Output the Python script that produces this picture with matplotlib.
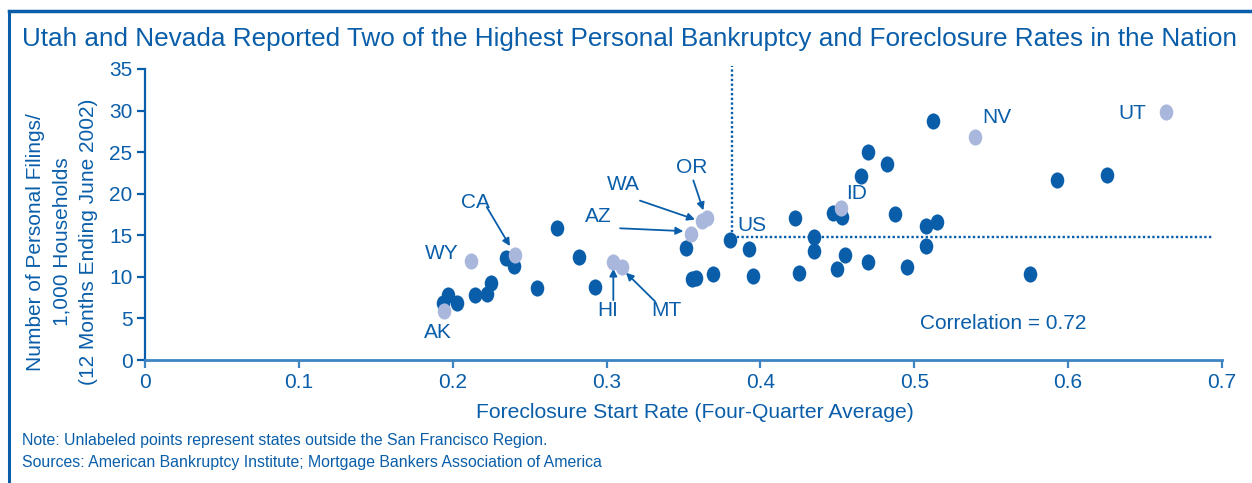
import numpy as np
import matplotlib.pyplot as plt
from matplotlib.path import Path
from matplotlib.lines import Line2D

plt.rcParams['font.family'] = ['Liberation Sans', 'DejaVu Sans']

BLUE = '#0a5ea9'
LIGHT = '#a9b7dc'
AXCOL = '#3d84c3'

# states outside the region (unlabeled)
other_x = [0.194, 0.197, 0.2026, 0.2145, 0.222, 0.2247, 0.2346, 0.240, 0.2546, 0.2676,
           0.282, 0.2925, 0.3516, 0.3553, 0.358, 0.3694, 0.380, 0.3926, 0.395, 0.4225,
           0.4251, 0.4348, 0.435, 0.4474, 0.4528, 0.450, 0.455, 0.4651, 0.4701, 0.4825,
           0.4701, 0.4875, 0.495, 0.5076, 0.515, 0.5076, 0.5124, 0.5752, 0.593, 0.625]
other_y = [6.9, 7.8, 6.9, 7.82, 7.9, 9.3, 12.23, 11.3, 8.62, 15.84,
           12.35, 8.82, 13.43, 9.7, 9.82, 10.3, 14.43, 13.31, 10.1, 17.04,
           10.5, 14.83, 13.1, 17.64, 17.16, 10.9, 12.63, 22.13, 25.05, 23.53,
           11.83, 17.52, 11.23, 16.12, 16.64, 13.75, 28.79, 10.3, 21.65, 22.21]

# San Francisco district states
sf_states = ['WY', 'CA', 'AK', 'HI', 'MT', 'AZ', 'WA', 'OR', 'ID', 'NV', 'UT']
sf_x = [0.2119, 0.2405, 0.1945, 0.3044, 0.3098, 0.3549, 0.3618, 0.3651, 0.4524, 0.5395, 0.6636]
sf_y = [11.94, 12.63, 5.93, 11.82, 11.14, 15.16, 16.75, 17.04, 18.24, 26.86, 29.79]

us_x = 0.3817
us_y = 14.83

# label text positions, and arrow tail/head where an arrow is drawn
label_pos = {
    'WY': (0.193, 12.8), 'CA': (0.2145, 19.0), 'AK': (0.1906, 3.25),
    'HI': (0.301, 6.0), 'MT': (0.339, 6.0), 'AZ': (0.2944, 17.3),
    'WA': (0.3109, 21.1), 'OR': (0.3553, 23.16), 'ID': (0.4628, 19.97),
    'NV': (0.5537, 29.2), 'UT': (0.6415, 29.6),
}
arrows = {
    'CA': ((0.2221, 18.4), (0.2372, 13.7)),
    'HI': ((0.3044, 7.2), (0.3044, 11.0)),
    'MT': ((0.3315, 7.05), (0.3126, 10.5)),
    'AZ': ((0.3088, 15.84), (0.3499, 15.5)),
    'WA': ((0.3217, 19.17), (0.3575, 16.9)),
    'OR': ((0.3564, 21.6), (0.3629, 18.0)),
}

# slightly tall oval dots
circ = Path.unit_circle()
oval = Path(circ.vertices * [0.84, 1.0], circ.codes)

W, H = 1252, 483
fig = plt.figure(figsize=(W / 100, H / 100), dpi=100)
ax = fig.add_axes([145 / W, 1 - 360 / H, (1222 - 145) / W, (360 - 69) / H])

ax.scatter(other_x, other_y, s=135, marker=oval, color=BLUE, linewidths=0, zorder=3)
ax.scatter(sf_x, sf_y, s=135, marker=oval, color=LIGHT, linewidths=0, zorder=4)

# U.S. average crosshair
ax.plot([us_x, us_x], [us_y, 35.4], ls=(0, (1, 1)), lw=1.7, color=BLUE, clip_on=False, zorder=2)
ax.plot([us_x, 0.694], [us_y, us_y], ls=(0, (1, 1)), lw=1.7, color=BLUE, zorder=2)
ax.text(0.3945, 16.2, 'US', color=BLUE, fontsize=15, ha='center', va='center')

for st in sf_states:
    tx, ty = label_pos[st]
    ax.text(tx, ty, st, color=BLUE, fontsize=15, ha='center', va='center', zorder=5)
    if st in arrows:
        tail, head = arrows[st]
        ax.annotate('', xy=head, xytext=tail,
                    arrowprops=dict(arrowstyle='-|>', color=BLUE, lw=1.3,
                                    mutation_scale=11, shrinkA=0, shrinkB=0))

ax.text(0.5576, 4.33, 'Correlation = 0.72', color=BLUE, fontsize=15, ha='center', va='center')

ax.set_xlim(0, 0.7)
ax.set_ylim(0, 35)
ax.set_xticks(np.arange(0, 0.71, 0.1))
ax.set_xticklabels(['0', '0.1', '0.2', '0.3', '0.4', '0.5', '0.6', '0.7'])
ax.set_yticks(range(0, 36, 5))
for side in ['top', 'right']:
    ax.spines[side].set_visible(False)
ax.spines['bottom'].set_color(AXCOL)
ax.spines['bottom'].set_linewidth(2)
ax.spines['left'].set_color(BLUE)
ax.spines['left'].set_linewidth(1.6)
ax.tick_params(axis='x', colors=AXCOL, labelcolor=BLUE, length=6, width=1.6,
               labelsize=15, pad=3)
ax.tick_params(axis='y', colors=BLUE, labelcolor=BLUE, length=6, width=1.6,
               labelsize=15, pad=3)

fig.text(695 / W, 1 - 412 / H, 'Foreclosure Start Rate (Four-Quarter Average)',
         color=BLUE, fontsize=15.2, ha='center', va='center')
fig.text(62 / W, 1 - 242 / H,
         'Number of Personal Filings/\n1,000 Households\n(12 Months Ending June 2002)',
         color=BLUE, fontsize=15, ha='center', va='center', rotation=90,
         multialignment='center', linespacing=1.5)

fig.text(22 / W, 1 - 39 / H,
         'Utah and Nevada Reported Two of the Highest Personal Bankruptcy and Foreclosure Rates in the Nation',
         color=BLUE, fontsize=18.8, ha='left', va='center')
fig.text(22 / W, 1 - 441 / H,
         'Note: Unlabeled points represent states outside the San Francisco Region.',
         color=BLUE, fontsize=11.4, ha='left', va='center')
fig.text(22 / W, 1 - 462 / H,
         'Sources: American Bankruptcy Institute; Mortgage Bankers Association of America',
         color=BLUE, fontsize=11.4, ha='left', va='center')

# frame lines along the top and left edges
fig.add_artist(Line2D([9 / W, 1], [1 - 11 / H, 1 - 11 / H], color=BLUE, lw=2.5,
                      transform=fig.transFigure))
fig.add_artist(Line2D([9 / W, 9 / W], [0, 1 - 11 / H], color=BLUE, lw=2.2,
                      transform=fig.transFigure))

fig.savefig('out.png', dpi=100)
